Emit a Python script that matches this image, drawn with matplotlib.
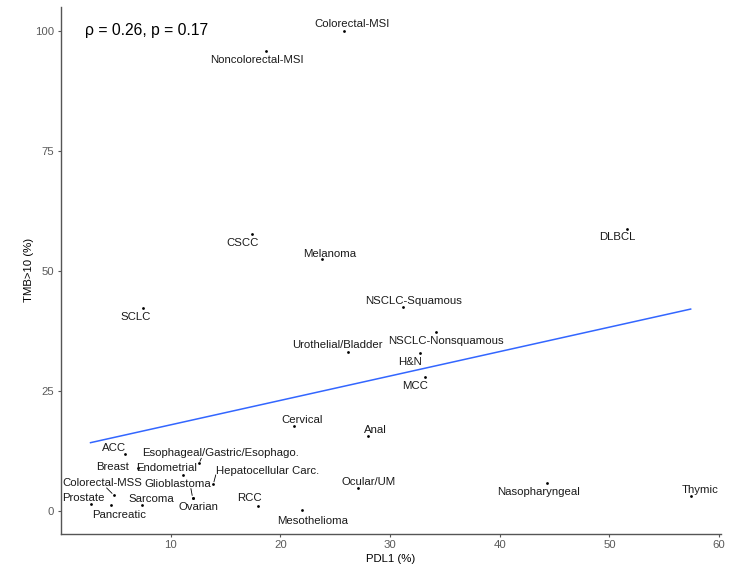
import matplotlib
matplotlib.use("Agg")
import matplotlib.pyplot as plt
import numpy as np

# ============================================================
# Data
# ============================================================
tumor = ["Colorectal-MSI", "Noncolorectal-MSI", "CSCC", "Melanoma", "SCLC",
         "DLBCL", "NSCLC-Squamous", "NSCLC-Nonsquamous", "Urothelial/Bladder",
         "H&N", "MCC", "Cervical", "Anal", "Ocular/UM", "Nasopharyngeal",
         "Thymic", "Mesothelioma", "RCC", "Sarcoma", "Pancreatic", "Prostate",
         "Colorectal-MSS", "ACC", "Breast", "Endometrial",
         "Esophageal/Gastric/Esophago.", "Hepatocellular Carc.",
         "Glioblastoma", "Ovarian"]
pdl1 = [25.8, 18.7, 17.4, 23.8, 7.5,
        51.6, 31.2, 34.2, 26.2,
        32.7, 33.2, 21.2, 28.0, 27.1, 44.3,
        57.4, 22.0, 18.0, 7.4, 4.6, 2.7,
        4.8, 5.8, 7.06, 11.1,
        12.6, 13.9,
        12.0, 12.0]
tmb = [100.0, 95.8, 57.6, 52.4, 42.2,
       58.6, 42.4, 37.2, 33.1,
       32.8, 27.8, 17.6, 15.6, 4.7, 5.7,
       3.1, 0.15, 1.0, 1.2, 1.1, 1.4,
       3.3, 11.8, 8.9, 7.4,
       9.9, 5.6,
       2.75, 2.75]
cor_label = "\u03c1 = 0.26, p = 0.17"

# label offsets (pixels, x right / y up) - stands in for ggrepel
offsets = {
    "Colorectal-MSI": (8, 7), "Noncolorectal-MSI": (-9, -9), "CSCC": (-9, -9),
    "Melanoma": (8, 5), "SCLC": (-8, -9), "DLBCL": (-10, -8),
    "NSCLC-Squamous": (10, 6), "NSCLC-Nonsquamous": (10, -9),
    "Urothelial/Bladder": (-11, 7), "H&N": (-10, -9), "MCC": (-10, -9),
    "Cervical": (9, 6), "Anal": (7, 6), "Ocular/UM": (10, 6),
    "Nasopharyngeal": (-8, -9), "Thymic": (9, 6), "Mesothelioma": (10, -11),
    "RCC": (-9, 8), "Sarcoma": (9, 6), "Pancreatic": (8, -10),
    "Prostate": (-7, 6), "Colorectal-MSS": (-11, 12), "ACC": (-10, 6),
    "Breast": (-26, 1), "Endometrial": (-16, 7),
    "Esophageal/Gastric/Esophago.": (21, 10), "Hepatocellular Carc.": (54, 13),
    "Glioblastoma": (-15, 14), "Ovarian": (6, -9),
}
# where the segment leaves the label box (relative position)
segments = {
    "Colorectal-MSS": (0.55, 0.0),
    "Esophageal/Gastric/Esophago.": (0.38, 0.0),
    "Hepatocellular Carc.": (0.0, 0.1),
    "Glioblastoma": (0.7, 0.0),
}

plt.rcParams['font.family'] = ['Liberation Sans', 'DejaVu Sans']

fig = plt.figure(figsize=(7.51, 5.70), dpi=100)
ax = fig.add_axes([0.0806, 0.0632, 0.879, 0.925])

x = np.array(pdl1)
y = np.array(tmb)

ax.scatter(x, y, s=4, color="black", zorder=3, linewidths=0)

# linear fit (geom_smooth method = "lm", se = FALSE)
slope, icpt = np.polyfit(x, y, 1)
xs = np.linspace(x.min(), x.max(), 100)
ax.plot(xs, icpt + slope * xs, color="#3366FF", lw=1.1, zorder=2)

for name, xi, yi in zip(tumor, x, y):
    dx, dy = offsets[name]
    arrow = None
    if name in segments:
        arrow = dict(arrowstyle="-", lw=0.6, color="black", shrinkA=0,
                     shrinkB=1.5, relpos=segments[name],
                     patchA=None)
    ax.annotate(name, (xi, yi), xytext=(dx, dy), textcoords="offset pixels",
                ha="center", va="center", fontsize=8.2, color="#1a1a1a",
                arrowprops=arrow, zorder=4)

ax.text(0.037, 0.954, cor_label, transform=ax.transAxes, ha="left", va="center",
        fontsize=11.3, color="black")

ax.set_xticks([10, 20, 30, 40, 50, 60])
ax.set_yticks([0, 25, 50, 75, 100])
ax.margins(0.05)

for side in ["top", "right"]:
    ax.spines[side].set_visible(False)
for side in ["left", "bottom"]:
    ax.spines[side].set_color("#555555")
    ax.spines[side].set_linewidth(1.0)
ax.tick_params(colors="#555555", labelcolor="#5a5a5a", length=2.5, width=0.8,
               labelsize=8.2, pad=2)

ax.set_xlabel("PDL1 (%)", fontsize=8.2, labelpad=3)
ax.set_ylabel("TMB>10 (%)", fontsize=8.2, labelpad=1)

fig.savefig("out.png", dpi=100)
